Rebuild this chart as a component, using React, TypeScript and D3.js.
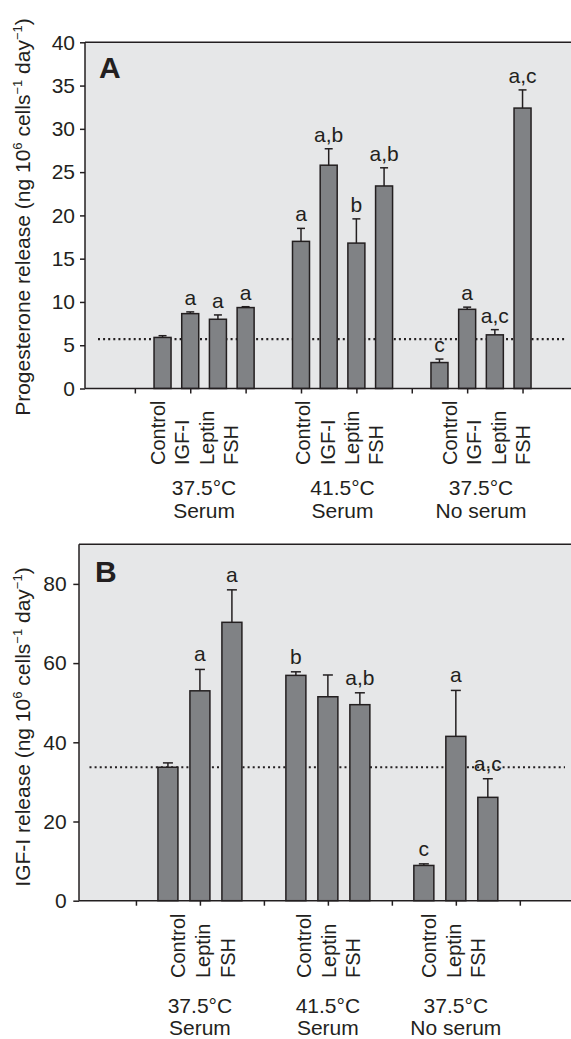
import { useEffect, useRef } from 'react';
import * as d3 from 'd3';

// condition headers under each group
const temps = ['37.5°C', '41.5°C', '37.5°C'];
const media = ['Serum', 'Serum', 'No serum'];

// panel A: progesterone
const treatmentsA = ['Control', 'IGF-I', 'Leptin', 'FSH'];
const progMean = [5.9, 8.65, 8.0, 9.35, 17.0, 25.8, 16.8, 23.4, 3.0, 9.15, 6.2, 32.4];
const progErr = [0.2, 0.2, 0.5, 0.1, 1.5, 1.9, 2.8, 2.1, 0.4, 0.25, 0.6, 2.1];
const progLetters = ['', 'a', 'a', 'a', 'a', 'a,b', 'b', 'a,b', 'c', 'a', 'a,c', 'a,c'];
const progControl = 5.7;
const progTicks = [0, 5, 10, 15, 20, 25, 30, 35, 40];

// panel B: IGF-I
const treatmentsB = ['Control', 'Leptin', 'FSH'];
const igfMean = [33.7, 53.0, 70.3, 56.9, 51.5, 49.5, 8.9, 41.5, 26.1];
const igfErr = [1.1, 5.4, 8.2, 0.9, 5.5, 3.0, 0.4, 11.6, 4.7];
const igfLetters = ['', 'a', 'a', 'b', '', 'a,b', 'c', 'a', 'a,c'];
const igfControl = 33.7;
const igfTicks = [0, 20, 40, 60, 80];

const INK = '#231f20';
const FONT = '"Liberation Sans", Arial, Helvetica, sans-serif';

const App = () => {
  const ref = useRef(null);

  useEffect(() => {
    const svg = d3.select(ref.current);
    svg.selectAll('*').remove();

    const panels = [
      {
        name: 'A', treatments: treatmentsA, mean: progMean, err: progErr, letters: progLetters,
        control: progControl, ticks: progTicks, yMax: 40,
        left: 85, top: 42.3, bottom: 388.5, xDomain: [-1.8, 15.75],
        barW: 17, capW: 8, letterGap: 7, tickPad: 5, tickLen: 5,
        labelShift: [-9.7, -2.8, 5.6], labelStep: 24.3, labelY: 465, headerY: [495, 518],
        titleY: 217, letterPos: [99, 78], dots: [98, 565],
        title: 'Progesterone release (ng 10',
      },
      {
        name: 'B', treatments: treatmentsB, mean: igfMean, err: igfErr, letters: igfLetters,
        control: igfControl, ticks: igfTicks, yMax: 90,
        left: 79, top: 544.3, bottom: 900.7, xDomain: [-1.78, 13.6],
        barW: 20, capW: 10, letterGap: 8, tickPad: 6.6, tickLen: 5.7,
        labelShift: [3.3, 0.7, -2.3], labelStep: 24.8, labelY: 978, headerY: [1013, 1035],
        titleY: 727, letterPos: [95, 582], dots: [89.5, 565],
        title: 'IGF-I release (ng 10',
      },
    ];

    panels.forEach(p => {
      const right = 571;
      const per = p.treatments.length;
      const x = d3.scaleLinear().domain(p.xDomain).range([p.left, right]);
      const y = d3.scaleLinear().domain([0, p.yMax]).range([p.bottom, p.top]);
      const slot = i => Math.floor(i / per) * (per + 1) + (i % per) + 1;
      const g = svg.append('g');

      // plot background + frame
      g.append('rect')
        .attr('x', p.left).attr('y', p.top)
        .attr('width', right + 2 - p.left).attr('height', p.bottom - p.top)
        .attr('fill', '#e6e7e8');
      g.append('line')
        .attr('x1', p.left).attr('x2', right + 2).attr('y1', p.top).attr('y2', p.top)
        .attr('stroke', INK).attr('stroke-width', 1.5);

      // control reference line
      g.append('line')
        .attr('x1', p.dots[0]).attr('x2', p.dots[1])
        .attr('y1', y(p.control)).attr('y2', y(p.control))
        .attr('stroke', INK).attr('stroke-width', 2.2).attr('stroke-dasharray', '2 3.1');

      // bars
      const idx = d3.range(p.mean.length);
      g.selectAll('rect.bar').data(idx).join('rect')
        .attr('class', 'bar')
        .attr('x', i => x(slot(i)) - p.barW / 2)
        .attr('y', i => y(p.mean[i]))
        .attr('width', p.barW)
        .attr('height', i => y(0) - y(p.mean[i]))
        .attr('fill', '#808285').attr('stroke', INK).attr('stroke-width', 1.5);

      // error bars
      g.selectAll('line.err').data(idx).join('line')
        .attr('class', 'err')
        .attr('x1', i => x(slot(i))).attr('x2', i => x(slot(i)))
        .attr('y1', i => y(p.mean[i])).attr('y2', i => y(p.mean[i] + p.err[i]))
        .attr('stroke', INK).attr('stroke-width', 1.5);
      g.selectAll('line.cap').data(idx).join('line')
        .attr('class', 'cap')
        .attr('x1', i => x(slot(i)) - p.capW / 2).attr('x2', i => x(slot(i)) + p.capW / 2)
        .attr('y1', i => y(p.mean[i] + p.err[i])).attr('y2', i => y(p.mean[i] + p.err[i]))
        .attr('stroke', INK).attr('stroke-width', 1.5);

      // significance letters
      g.selectAll('text.sig').data(idx.filter(i => p.letters[i])).join('text')
        .attr('class', 'sig')
        .attr('x', i => x(slot(i)))
        .attr('y', i => y(p.mean[i] + p.err[i]) - p.letterGap)
        .attr('text-anchor', 'middle')
        .attr('font-family', FONT).attr('font-size', 21).attr('fill', INK)
        .text(i => p.letters[i]);

      // y axis
      const ya = g.append('g')
        .attr('transform', `translate(${p.left},0)`)
        .call(d3.axisLeft(y).tickValues(p.ticks).tickSize(p.tickLen).tickSizeOuter(0).tickPadding(p.tickPad));
      ya.select('.domain').remove();
      ya.selectAll('line').attr('stroke', INK).attr('stroke-width', 1.5);
      ya.selectAll('text').attr('font-family', FONT).attr('font-size', 21).attr('fill', INK);
      g.append('line')
        .attr('x1', p.left).attr('x2', p.left).attr('y1', p.top).attr('y2', p.bottom)
        .attr('stroke', INK).attr('stroke-width', 1.5);

      // x axis
      const xTicks = d3.range(0, Math.floor(p.xDomain[1]) + 1, 2);
      const xa = g.append('g')
        .attr('transform', `translate(0,${p.bottom})`)
        .call(d3.axisBottom(x).tickValues(xTicks).tickFormat(() => '').tickSize(5).tickSizeOuter(0));
      xa.select('.domain').remove();
      xa.selectAll('line').attr('stroke', INK).attr('stroke-width', 1.5);
      g.append('line')
        .attr('x1', p.left).attr('x2', right + 2).attr('y1', p.bottom).attr('y2', p.bottom)
        .attr('stroke', INK).attr('stroke-width', 1.5);

      // rotated treatment labels and condition headers
      temps.forEach((t, gi) => {
        const mid = (x(slot(gi * per)) + x(slot(gi * per + per - 1))) / 2;
        p.treatments.forEach((tr, j) => {
          const lx = mid + p.labelShift[gi] + (j - (per - 1) / 2) * p.labelStep;
          g.append('text')
            .attr('transform', `translate(${lx},${p.labelY}) rotate(-90)`)
            .attr('dominant-baseline', 'central')
            .attr('font-family', FONT).attr('font-size', 20).attr('fill', INK)
            .text(tr);
        });
        g.append('text')
          .attr('x', mid).attr('y', p.headerY[0]).attr('text-anchor', 'middle')
          .attr('font-family', FONT).attr('font-size', 21).attr('fill', INK)
          .text(t);
        g.append('text')
          .attr('x', mid).attr('y', p.headerY[1]).attr('text-anchor', 'middle')
          .attr('font-family', FONT).attr('font-size', 21).attr('fill', INK)
          .text(media[gi]);
      });

      // panel letter
      g.append('text')
        .attr('x', p.letterPos[0]).attr('y', p.letterPos[1])
        .attr('font-family', FONT).attr('font-size', 30).attr('font-weight', 'bold').attr('fill', INK)
        .text(p.name);

      // y axis title with superscripts
      const tt = g.append('text')
        .attr('transform', `translate(30,${p.titleY}) rotate(-90)`)
        .attr('text-anchor', 'middle')
        .attr('font-family', FONT).attr('font-size', 21).attr('fill', INK);
      tt.append('tspan').text(p.title);
      tt.append('tspan').attr('font-size', 13).attr('dy', -8).text('6');
      tt.append('tspan').attr('dy', 8).text(' cells');
      tt.append('tspan').attr('font-size', 13).attr('dy', -8).text('−1');
      tt.append('tspan').attr('dy', 8).text(' day');
      tt.append('tspan').attr('font-size', 13).attr('dy', -8).text('−1');
      tt.append('tspan').attr('dy', 8).text(')');
    });
  }, []);

  return (
    <svg
      ref={ref}
      width={571}
      height={1039}
      style={{ position: 'absolute', left: 0, top: 0, background: '#fff' }}
    />
  );
};

export default App;
